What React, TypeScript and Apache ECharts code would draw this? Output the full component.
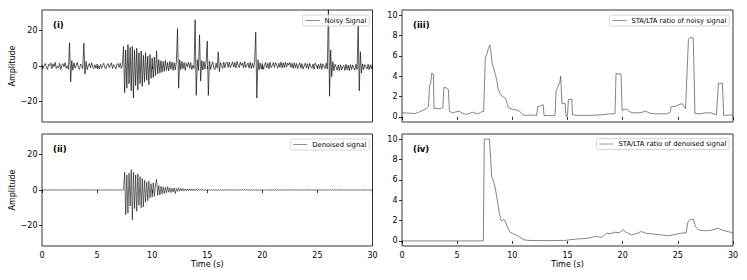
import React, { useEffect, useRef } from "react";
import * as echarts from "echarts";

// ---------- data ----------
const DT = 0.1; // sampling step (s) of the waveform arrays below

const noisySignal = [
  0.5, -1.2, 0.3, 1.4, -0.8, -1.9, 0.9, 0.2, 1.6, -1.5,
  1.2, -0.3, 2.1, -1.4, -0.2, -1.1, 1.5, -2.0, 0.4, 1.3,
  -0.5, 1.9, -1.3, 0.1, -1.8, 13.0, -9.0, 3.0, -2.4, 1.7,
  -1.2, 0.4, 2.0, -0.9, -1.9, 1.1, 0.3, -1.6, 12.8, -4.5,
  2.6, -2.0, 0.2, 1.4, -1.0, 1.8, -0.4, -1.5, 0.7, -1.2,
  1.1, 0.2, -1.7, 0.9, -1.3, 0.5, 1.5, -0.8, -1.6, 0.6,
  1.4, -0.9, 0.3, 1.8, -1.4, 0.8, -0.2, -1.7, 1.0, 1.3,
  -0.8, 1.6, -1.3, 0.4, 11.0, -15.0, 9.0, -12.5, 12.0, -10.0,
  10.5, -14.0, 11.0, -18.0, 9.0, -11.0, 10.0, -13.5, 7.5, -10.0,
  8.5, -11.5, 6.0, -9.0, 7.5, -8.0, 5.5, -10.5, 6.5, -7.0,
  4.5, -6.5, 5.0, -5.5, 8.5, -4.5, 3.5, -4.0, 3.0, -3.5,
  2.5, -3.0, 3.2, -2.4, 2.0, -2.8, 2.6, -1.8, 2.2, -2.5,
  1.8, -2.2, 2.5, 21.0, -12.5, 3.5, -2.0, 2.6, -1.5, 2.0,
  -2.4, 1.5, -0.3, 2.2, -1.3, 1.9, -2.0, 0.4, -1.4, 26.0,
  -16.5, 3.5, -2.5, 17.5, -8.5, 3.0, -2.2, 2.6, -1.8, 2.4,
  14.0, -16.5, 2.8, -1.9, 0.6, 2.3, -1.5, -2.1, 1.6, -1.2,
  8.0, -3.2, 1.9, 0.2, -1.4, 2.2, -1.0, 1.7, 2.3, -0.8,
  2.1, -0.9, 0.6, 2.4, -0.6, 1.9, -1.1, 2.6, 0.4, -0.9,
  2.2, 0.3, 1.8, -1.0, 2.5, -0.8, 0.5, 1.7, -1.2, 2.0,
  -1.4, 1.6, -1.0, 2.1, 19.0, -18.0, 3.5, -2.2, 1.8, -1.6,
  1.4, -1.9, 0.5, 2.0, -1.1, 1.5, -1.6, 2.2, -0.9, 0.3,
  1.9, -0.8, 2.0, 0.4, -1.2, 1.6, -0.7, 2.3, -1.0, 1.8,
  -0.9, 2.1, -0.6, 1.7, 0.5, 2.0, -0.8, 1.5, -1.3, 1.9,
  -1.0, 1.4, -1.5, 0.2, 1.8, -1.2, 1.3, -1.7, 0.1, 1.6,
  -1.1, 1.2, -1.6, 1.5, -0.3, -1.3, 1.1, -1.8, 1.7, 0.2,
  -1.2, 1.0, -1.5, 1.4, -1.9, 1.2, -0.2, -1.4, 1.6, -1.7,
  34.0, -17.0, 9.0, -6.0, 2.5, -2.8, 1.0, -0.6, -2.4, 0.6,
  -2.6, 0.7, -2.3, -0.4, 0.4, -2.5, 0.9, -2.1, 0.5, -2.7,
  0.8, -2.0, 0.6, -1.2, -2.4, 1.0, -1.9, 23.0, -14.0, 8.0,
  -4.0, 1.2, -2.0, 0.8, -0.4, -1.7, 1.0, -2.1, 0.7, -1.5,
  1.1,
];

const denoisedSignal = [
  0, 0, 0, 0, 0, 0, 0, 0, 0, 0,
  0, 0, 0, 0, 0, 0, 0, 0, 0, 0,
  0, 0, 0, 0, 0, 0, 0, 0, 0, 0,
  0, 0, 0, 0, 0, 0, 0, 0, 0, 0,
  0, 0, 0, 0, 0, 0, 0, 0, 0, 0,
  0, 0, 0, 0, 0, 0, 0, 0, 0, 0,
  0, 0, 0, 0, 0, 0, 0, 0, 0, 0,
  0, 0, 0, 0, 0, 10.0, -14.0, 8.5, -13.0, 9.5,
  -9.0, 11.5, -16.8, 10.0, -10.5, 8.5, -12.0, 9.0, -8.5, 7.5,
  -10.0, 6.5, -9.5, 5.5, -7.0, 4.5, -6.0, 5.0, -4.5, 3.5,
  -4.0, 4.0, -3.5, 3.0, 6.0, -3.0, 2.5, -2.8, 2.0, -2.2,
  1.8, -2.0, 1.5, -1.6, 1.9, -1.2, 1.3, -1.5, 1.0, -1.1,
  1.2, -2.0, 0.9, -0.8, 1.3, -0.7, 0.9, -0.6, 0.8, -0.5,
  0.7, -0.5, 0.6, -0.4, 0.8, -0.5, 0.5, -0.4, 0.6, -0.3,
  0.5, -0.4, 0.4, -0.3, 0.5, -0.3, 0.4, -0.4, 0.3, -0.3,
  0.3, -0.2, 0.2, -0.2, 0.2, -0.1, 0.2, -0.2, 0.1, -0.2,
  0.1, -0.1, 0.2, -0.1, 0.1, -0.2, 0.1, -0.1, 0.2, -0.1,
  0.2, -0.1, 0.1, -0.2, 0.2, -0.1, 0.1, -0.1, 0.2, -0.1,
  0.2, -0.2, 0.2, -0.1, 0.2, -0.1, 0.2, -0.2, 0.1, -0.1,
  0.2, -0.1, 0.1, -0.1, 0.2, -0.1, 0.1, -0.2, 0.1, -0.1,
  0.1, -0.1, 0.2, -0.1, 0.1, -0.1, 0.1, -0.2, 0.1, -0.1,
  0.2, -0.1, 0.1, -0.2, 0.1, -0.1, 0.2, -0.1, 0.1, -0.1,
  0.1, -0.1, 0.1, -0.1, 0.2, -0.1, 0.1, -0.1, 0.1, -0.1,
  0.1, -0.1, 0.2, -0.1, 0.1, -0.1, 0.1, -0.1, 0.1, -0.1,
  0.1, -0.1, 0.1, -0.1, 0.1, -0.1, 0.1, -0.1, 0.1, -0.1,
  0.1, -0.1, 0.1, -0.1, 0.1, -0.1, 0.1, -0.1, 0.2, -0.2,
  0.3, -0.3, 0.2, -0.2, 0.2, -0.1, 0.1, -0.1, 0.1, -0.1,
  0.1, -0.1, 0.1, -0.1, 0.1, -0.1, 0.1, -0.1, 0.1, -0.1,
  0.1, -0.1, 0.1, -0.1, 0.1, -0.1, 0.1, -0.1, 0.1, -0.1,
  0.1, -0.1, 0.1, -0.1, 0.1, -0.1, 0.1, -0.1, 0.1, -0.1,
  0,
];

// [time (s), ratio]
const staLtaNoisy = [
  [0, 0.42], [0.4, 0.38], [0.8, 0.36], [1.2, 0.33], [1.5, 0.45], [1.8, 0.62],
  [2.0, 0.7], [2.2, 0.8], [2.4, 1.05], [2.5, 3.1], [2.6, 3.3], [2.7, 4.3],
  [2.85, 4.2], [2.9, 0.85], [3.2, 0.8], [3.5, 0.82], [3.7, 0.9], [3.8, 2.9],
  [4.0, 2.85], [4.2, 2.7], [4.3, 0.55], [4.6, 0.4], [4.9, 0.5], [5.2, 0.55],
  [5.5, 0.35], [5.8, 0.25], [6.1, 0.35], [6.4, 0.45], [6.7, 0.35], [6.9, 0.3],
  [7.2, 0.5], [7.4, 0.55], [7.55, 5.8], [7.7, 6.2], [7.85, 6.8], [7.98, 7.05],
  [8.1, 6.0], [8.16, 5.3], [8.22, 5.0], [8.3, 4.9], [8.45, 4.2], [8.58, 3.7],
  [8.7, 2.8], [8.8, 2.5], [9.0, 2.1], [9.2, 1.95], [9.4, 1.8], [9.55, 1.2],
  [9.65, 0.9], [9.9, 0.8], [10.2, 0.7], [10.5, 0.65], [10.7, 0.5], [10.9, 0.3],
  [11.06, 0.15], [11.6, 0.18], [12.2, 0.15], [12.3, 1.0], [12.5, 1.05],
  [12.8, 1.2], [12.87, 0.15], [13.4, 0.12], [13.87, 0.15], [13.96, 2.5],
  [14.15, 3.0], [14.3, 3.4], [14.38, 4.0], [14.5, 1.3], [14.78, 1.3],
  [14.87, 0.05], [15.0, 0.1], [15.08, 1.7], [15.4, 1.75], [15.45, 0.2],
  [16.0, 0.15], [17.0, 0.15], [18.0, 0.2], [18.8, 0.3], [19.3, 0.3],
  [19.4, 4.25], [19.85, 4.2], [19.95, 0.6], [20.1, 0.75], [20.4, 0.75],
  [20.6, 0.5], [21.0, 0.4], [21.5, 0.4], [22.1, 0.55], [22.5, 0.35],
  [23.0, 0.3], [24.0, 0.3], [24.3, 0.45], [24.4, 1.0], [24.8, 1.05],
  [25.1, 1.2], [25.4, 1.3], [25.5, 1.15], [25.7, 0.8], [25.96, 7.6],
  [26.1, 7.8], [26.4, 7.75], [26.55, 0.35], [27.0, 0.3], [27.5, 0.4],
  [28.0, 0.4], [28.5, 0.2], [28.68, 3.3], [29.04, 3.3], [29.15, 0.15],
  [30.0, 0.2],
];

const staLtaDenoised = [
  [0, 0], [7.37, 0], [7.46, 10], [7.92, 10], [8.04, 8.0], [8.13, 6.3],
  [8.25, 6.0], [8.43, 5.3], [8.64, 4.0], [8.82, 2.7], [8.95, 2.1], [9.04, 1.95],
  [9.2, 2.1], [9.34, 2.0], [9.55, 1.35], [9.79, 0.86], [10.0, 0.75],
  [10.24, 0.63], [10.5, 0.5], [10.7, 0.36], [11.06, 0.1], [11.5, 0.05],
  [12.5, 0.03], [13.5, 0.03], [14.8, 0.05], [15.5, 0.15], [16.0, 0.2],
  [16.6, 0.23], [17.0, 0.3], [17.5, 0.43], [18.1, 0.35], [18.55, 0.76],
  [18.9, 0.7], [19.3, 0.86], [19.7, 0.8], [20.05, 1.09], [20.3, 0.85],
  [20.8, 0.59], [21.2, 0.7], [21.7, 0.92], [22.1, 0.75], [22.6, 0.69],
  [23.0, 0.65], [23.5, 0.59], [24.1, 0.5], [24.7, 0.62], [25.3, 0.76],
  [25.76, 0.8], [25.9, 1.8], [26.17, 2.15], [26.3, 2.1], [26.4, 2.15],
  [26.6, 1.42], [26.85, 1.09], [27.3, 1.0], [27.75, 1.0], [28.2, 1.1],
  [28.65, 1.25], [28.9, 1.1], [29.25, 1.0], [29.6, 0.9], [30.0, 0.8],
];

const timeTicks = [0, 5, 10, 15, 20, 25, 30];
const amplitudeTicks = [-20, 0, 20];
const ratioTicks = [0, 2, 4, 6, 8, 10];
const panelLabels = ["(i)", "(ii)", "(iii)", "(iv)"];
const seriesNames = [
  "Noisy Signal",
  "Denoised signal",
  "STA/LTA ratio of noisy signal",
  "STA/LTA ratio of denoised signal",
];

// ---------- chart ----------
const FONT = "DejaVu Sans";

function fmtMinus(v: number) {
  return v < 0 ? "\u2212" + Math.abs(v) : String(v);
}

export default function App() {
  const ref = useRef<HTMLDivElement>(null);

  useEffect(() => {
    document.body.style.margin = "0";
    if (!ref.current) return;
    const chart = echarts.init(ref.current, undefined, { renderer: "svg" });

    const grids = [
      { left: 42, top: 10, width: 330.5, height: 112 },
      { left: 42, top: 134, width: 330.5, height: 112 },
      { left: 402, top: 10, width: 331, height: 112 },
      { left: 402, top: 134, width: 331, height: 112 },
    ].map((g) => ({ ...g, show: true, borderColor: "#000", borderWidth: 0.8, backgroundColor: "transparent" }));

    const xAxes = grids.map((_, i) => {
      const bottom = i === 1 || i === 3;
      return {
        type: "value",
        gridIndex: i,
        min: timeTicks[0],
        max: timeTicks[timeTicks.length - 1],
        interval: 5,
        axisLine: { show: false },
        axisTick: { show: true, inside: false, length: 3, lineStyle: { color: "#000", width: 0.8 } },
        axisLabel: { show: bottom, margin: 5, fontSize: 8, color: "#000", fontFamily: FONT },
        splitLine: { show: false },
        name: bottom ? "Time (s)" : "",
        nameLocation: "middle",
        nameGap: 14,
        nameTextStyle: { fontSize: 8, color: "#000", fontFamily: FONT },
      };
    });

    const yAxes = grids.map((_, i) => {
      const amp = i < 2;
      const ticks = amp ? amplitudeTicks : ratioTicks;
      return {
        type: "value",
        gridIndex: i,
        min: amp ? -31.5 : -0.5,
        max: amp ? 31.5 : 10.5,
        axisLine: { show: false },
        axisTick: { show: true, inside: false, length: 3, customValues: ticks, lineStyle: { color: "#000", width: 0.8 } },
        axisLabel: {
          show: true,
          customValues: ticks,
          margin: 4.5,
          fontSize: 8,
          color: "#000",
          fontFamily: FONT,
          formatter: (v: number) => fmtMinus(v),
        },
        splitLine: { show: false },
        name: amp ? "Amplitude" : "",
        nameLocation: "middle",
        nameGap: 25,
        nameTextStyle: { fontSize: 8, color: "#000", fontFamily: FONT },
      };
    });

    const seriesData = [
      noisySignal.map((v, k) => [k * DT, v]),
      denoisedSignal.map((v, k) => [k * DT, v]),
      staLtaNoisy,
      staLtaDenoised,
    ];

    const widths = [0.7, 0.6, 0.6, 0.6];
    const series = seriesData.map((d, i) => ({
      type: "line",
      name: seriesNames[i],
      xAxisIndex: i,
      yAxisIndex: i,
      data: d,
      symbol: "none",
      showSymbol: false,
      clip: true,
      lineStyle: { color: i < 2 ? "#111" : "#333", width: widths[i] },
      itemStyle: { color: i < 2 ? "#111" : "#333" },
      emphasis: { disabled: true },
    }));

    const legendPos = [
      { right: 377.7, top: 15 },
      { right: 377.7, top: 139 },
      { right: 17.7, top: 15 },
      { right: 17.7, top: 138.5 },
    ];
    const legends = seriesNames.map((n, i) => ({
      data: [n],
      ...legendPos[i],
      orient: "horizontal",
      selectedMode: false,
      icon: "rect",
      itemWidth: 14,
      itemHeight: 0.8,
      itemGap: 0,
      itemStyle: { color: "#777", borderWidth: 0 },
      padding: [1.5, 3, 1.5, 3],
      borderColor: "#cccccc",
      borderWidth: 0.8,
      borderRadius: 2,
      backgroundColor: "rgba(255,255,255,0.8)",
      textStyle: { fontSize: 6.8, color: "#000", fontFamily: FONT, lineHeight: 8 },
    }));

    const labelPos = [
      [53, 25],
      [53, 149],
      [413, 25],
      [413, 149],
    ];
    const graphic = panelLabels.map((t, i) => ({
      type: "text",
      x: labelPos[i][0],
      y: labelPos[i][1],
      z: 10,
      style: {
        text: t,
        fontSize: 8.5,
        fontWeight: "bold",
        fontFamily: FONT,
        fill: "#000",
        verticalAlign: "middle",
        align: "left",
      },
    }));

    chart.setOption({
      animation: false,
      textStyle: { fontFamily: FONT },
      grid: grids,
      xAxis: xAxes,
      yAxis: yAxes,
      legend: legends,
      series,
      graphic,
    });

    return () => chart.dispose();
  }, []);

  return <div ref={ref} style={{ width: 747, height: 280 }} />;
}
